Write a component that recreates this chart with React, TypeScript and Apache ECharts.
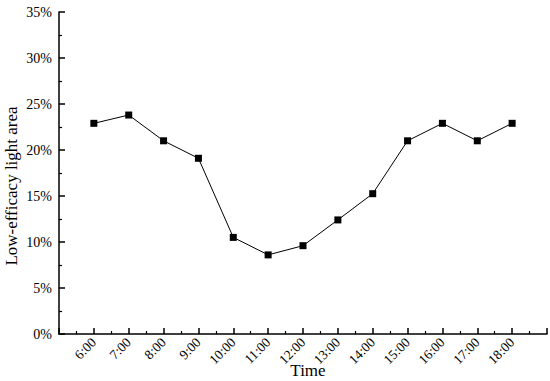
import React, { useEffect, useRef } from "react";
import * as echarts from "echarts";

const hours = [6, 7, 8, 9, 10, 11, 12, 13, 14, 15, 16, 17, 18];
const values = [22.9, 23.8, 21.0, 19.1, 10.5, 8.6, 9.6, 12.4, 15.25, 21.0, 22.9, 21.0, 22.9];
const yTicks = [0, 5, 10, 15, 20, 25, 30, 35];
const xTitle = "Time";
const yTitle = "Low-efficacy light area";

const FONT = "'Liberation Serif', 'Times New Roman', serif";

export default function App() {
  const ref = useRef<HTMLDivElement>(null);
  useEffect(() => {
    const chart = echarts.init(ref.current!, null, { renderer: "svg" });
    chart.setOption({
      animation: false,
      textStyle: { fontFamily: FONT },
      grid: { left: 59, top: 12, right: 3, bottom: 47, containLabel: false, outerBoundsMode: "none" },
      graphic: [
        {
          type: "text",
          x: 11,
          y: 186,
          rotation: Math.PI / 2,
          style: {
            text: yTitle,
            fontFamily: FONT,
            fontSize: 17,
            fill: "#000",
            align: "center",
            verticalAlign: "middle",
          },
        },
      ],
      xAxis: {
        type: "value",
        min: 5,
        max: 19,
        interval: 1,
        name: xTitle,
        nameLocation: "middle",
        nameGap: 28,
        nameMoveOverlap: false,
        nameTextStyle: { fontFamily: FONT, fontSize: 17, color: "#000", padding: [0, 0, 0, 10] },
        axisLine: { lineStyle: { color: "#000", width: 1.5 } },
        axisTick: { inside: true, length: 6, lineStyle: { color: "#000", width: 1.5 } },
        minorTick: { show: true, splitNumber: 2, length: 3, lineStyle: { color: "#000", width: 1.2 } },
        splitLine: { show: false },
        axisLabel: {
          rotate: 45,
          fontFamily: FONT,
          fontSize: 13.5,
          color: "#000",
          margin: 6,
          formatter: (v: number) => (hours.indexOf(v) >= 0 ? v + ":00" : ""),
        },
      },
      yAxis: {
        type: "value",
        min: yTicks[0],
        max: yTicks[yTicks.length - 1],
        interval: 5,
        axisLine: { show: true, lineStyle: { color: "#000", width: 1.5 } },
        axisTick: { show: true, inside: true, length: 6, lineStyle: { color: "#000", width: 1.5 } },
        minorTick: { show: true, splitNumber: 2, length: 3, lineStyle: { color: "#000", width: 1.2 } },
        splitLine: { show: false },
        axisLabel: {
          fontFamily: FONT,
          fontSize: 14,
          color: "#000",
          margin: 7,
          formatter: (v: number) => v + "%",
        },
      },
      series: [
        {
          type: "line",
          data: hours.map((h, i) => [h, values[i]]),
          symbol: "rect",
          symbolSize: 7,
          itemStyle: { color: "#000" },
          lineStyle: { color: "#000", width: 1 },
        },
      ],
    });
    return () => chart.dispose();
  }, []);
  return <div ref={ref} style={{ width: 550, height: 381, position: "absolute", left: 0, top: 0 }} />;
}
